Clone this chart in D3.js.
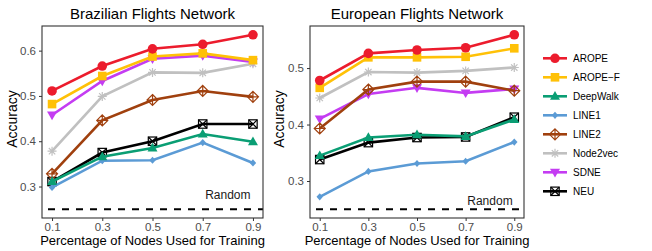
<!DOCTYPE html>
<html>
<head>
<meta charset="utf-8">
<script src="https://cdn.jsdelivr.net/npm/d3@7"></script>
<style>
  html, body { margin: 0; padding: 0; background: #fff; }
  svg { display: block; font-family: "Liberation Sans", Arial, sans-serif; }
</style>
</head>
<body>
<svg id="chart" width="652" height="251"></svg>
<script>
// training fractions on the x axis
var trainFractions = [0.1, 0.3, 0.5, 0.7, 0.9];
var methods = ['AROPE', 'AROPE\u2212F', 'DeepWalk', 'LINE1', 'LINE2', 'Node2vec', 'SDNE', 'NEU'];

// accuracy per method (same order as methods), Brazilian flights
var brazilAccuracy = [
  [0.511, 0.566, 0.604, 0.614, 0.635],
  [0.482, 0.544, 0.587, 0.594, 0.579],
  [0.311, 0.366, 0.385, 0.416, 0.399],
  [0.298, 0.357, 0.358, 0.397, 0.352],
  [0.328, 0.446, 0.491, 0.511, 0.498],
  [0.378, 0.499, 0.552, 0.551, 0.571],
  [0.458, 0.533, 0.582, 0.589, 0.575],
  [0.311, 0.375, 0.400, 0.438, 0.438]
];

// accuracy per method, European flights
var europeAccuracy = [
  [0.478, 0.526, 0.532, 0.536, 0.559],
  [0.465, 0.519, 0.519, 0.520, 0.535],
  [0.345, 0.377, 0.382, 0.379, 0.409],
  [0.272, 0.317, 0.331, 0.335, 0.369],
  [0.393, 0.462, 0.476, 0.476, 0.460],
  [0.447, 0.493, 0.492, 0.495, 0.501],
  [0.410, 0.454, 0.465, 0.456, 0.463],
  [0.338, 0.368, 0.377, 0.378, 0.413]
];

var randomBaseline = 0.25;
var xTicks = [0.1, 0.3, 0.5, 0.7, 0.9];
var brazilYTicks = [0.3, 0.4, 0.5, 0.6];
var europeYTicks = [0.3, 0.4, 0.5];
var panelTitles = ['Brazilian Flights Network', 'European Flights Network'];
var randomLabelY = [0.282, 0.265];

var colors = ['#EC1C2D', '#FFC107', '#0A9E74', '#5B9BD5', '#A0400E', '#C0C0C0', '#C43CF2', '#000000'];
var shapes = ['circle', 'square', 'triUp', 'diamondSmall', 'diamondPlus', 'asterisk', 'triDown', 'squareCross'];

var svg = d3.select('#chart');

function drawMarker(g, shape, color, cx, cy) {
  var m = g.append('g').attr('transform', 'translate(' + cx + ',' + cy + ')');
  if (shape === 'circle') {
    m.append('circle').attr('r', 4.8).attr('fill', color);
  } else if (shape === 'square') {
    m.append('rect').attr('x', -4.3).attr('y', -4.3).attr('width', 8.6).attr('height', 8.6).attr('fill', color);
  } else if (shape === 'triUp') {
    m.append('path').attr('d', 'M0,-5.2L5,3.5L-5,3.5Z').attr('fill', color);
  } else if (shape === 'triDown') {
    m.append('path').attr('d', 'M0,5.2L5,-3.5L-5,-3.5Z').attr('fill', color);
  } else if (shape === 'diamondSmall') {
    m.append('path').attr('d', 'M0,-3.6L3.2,0L0,3.6L-3.2,0Z').attr('fill', color);
  } else if (shape === 'diamondPlus') {
    m.append('path').attr('d', 'M0,-5.5L5.5,0L0,5.5L-5.5,0Z M0,-5.5L0,5.5 M-5.5,0L5.5,0')
      .attr('fill', 'none').attr('stroke', color).attr('stroke-width', 1.2);
  } else if (shape === 'asterisk') {
    m.append('path').attr('d', 'M-4.5,0L4.5,0 M-3.2,-3.2L3.2,3.2 M-3.2,3.2L3.2,-3.2 M0,-4.5L0,4.5')
      .attr('fill', 'none').attr('stroke', color).attr('stroke-width', 1.2);
  } else if (shape === 'squareCross') {
    m.append('rect').attr('x', -4.2).attr('y', -4.2).attr('width', 8.4).attr('height', 8.4)
      .attr('fill', 'none').attr('stroke', color).attr('stroke-width', 1.2);
    m.append('path').attr('d', 'M-4.2,-4.2L4.2,4.2 M-4.2,4.2L4.2,-4.2')
      .attr('stroke', color).attr('stroke-width', 1.2);
  }
}

function drawPanel(opts) {
  var x = d3.scaleLinear().domain([0.06, 0.94]).range([opts.left, opts.right]);
  var y = d3.scaleLinear().domain(opts.yDomain).range([opts.bottom, opts.top]);
  var g = svg.append('g');

  // Title
  g.append('text').attr('x', (opts.left + opts.right) / 2).attr('y', 19)
    .attr('text-anchor', 'middle').attr('font-size', 15).attr('fill', '#000').text(opts.title);

  // Random baseline
  g.append('line').attr('x1', opts.left).attr('x2', opts.right)
    .attr('y1', y(randomBaseline)).attr('y2', y(randomBaseline))
    .attr('stroke', '#000').attr('stroke-width', 2).attr('stroke-dasharray', '7,7')
    .attr('stroke-dashoffset', -6);
  g.append('text').attr('x', x(0.8)).attr('y', y(opts.randomY)).attr('dy', '0.36em')
    .attr('text-anchor', 'middle').attr('font-size', 12).attr('fill', '#1a1a1a').text('Random');

  // Lines, drawn so that the first methods end up on top
  var line = d3.line().x(function (d, i) { return x(trainFractions[i]); }).y(function (d) { return y(d); });
  for (var k = methods.length - 1; k >= 0; k--) {
    var s = g.append('g');
    s.append('path').datum(opts.values[k]).attr('d', line)
      .attr('fill', 'none').attr('stroke', colors[k]).attr('stroke-width', 2.6);
    opts.values[k].forEach(function (v, i) {
      drawMarker(s, shapes[k], colors[k], x(trainFractions[i]), y(v));
    });
  }

  // Panel border
  g.append('rect').attr('x', opts.left).attr('y', opts.top)
    .attr('width', opts.right - opts.left).attr('height', opts.bottom - opts.top)
    .attr('fill', 'none').attr('stroke', '#333').attr('stroke-width', 1.1);

  // Axes
  var xAxis = g.append('g').attr('transform', 'translate(0,' + opts.bottom + ')')
    .call(d3.axisBottom(x).tickValues(xTicks).tickSize(3).tickPadding(2).tickFormat(d3.format('.1f')));
  var yAxis = g.append('g').attr('transform', 'translate(' + opts.left + ',0)')
    .call(d3.axisLeft(y).tickValues(opts.yTicks).tickSize(3).tickPadding(3).tickFormat(d3.format('.1f')));
  [xAxis, yAxis].forEach(function (a) {
    a.select('.domain').remove();
    a.selectAll('.tick line').attr('stroke', '#333');
    a.selectAll('.tick text').attr('fill', '#4d4d4d').attr('font-size', 11.5)
      .attr('font-family', '"Liberation Sans", Arial, sans-serif');
  });

  // Axis titles
  g.append('text').attr('x', (opts.left + opts.right) / 2).attr('y', 244.5)
    .attr('text-anchor', 'middle').attr('font-size', 13).attr('fill', '#000')
    .text('Percentage of Nodes Used for Training');
  g.append('text').attr('transform', 'translate(' + opts.yTitleX + ',119) rotate(-90)')
    .attr('text-anchor', 'middle').attr('font-size', 14).attr('fill', '#000').text('Accuracy');
}

drawPanel({
  left: 42, right: 263, top: 26, bottom: 218,
  yDomain: [0.2305, 0.6544], yTicks: brazilYTicks,
  values: brazilAccuracy, title: panelTitles[0], randomY: randomLabelY[0], yTitleX: 17
});
drawPanel({
  left: 310, right: 524, top: 26, bottom: 218,
  yDomain: [0.2345, 0.5745], yTicks: europeYTicks,
  values: europeAccuracy, title: panelTitles[1], randomY: randomLabelY[1], yTitleX: 284
});

// Legend
var legend = svg.append('g');
methods.forEach(function (name, k) {
  var ly = 58.3 + k * 19;
  legend.append('line').attr('x1', 543).attr('x2', 567).attr('y1', ly).attr('y2', ly)
    .attr('stroke', colors[k]).attr('stroke-width', 2.6);
  drawMarker(legend, shapes[k], colors[k], 555, ly);
  legend.append('text').attr('x', 573).attr('y', ly).attr('dy', '0.36em')
    .attr('font-size', 10).attr('fill', '#000').text(name);
});
</script>
</body>
</html>
